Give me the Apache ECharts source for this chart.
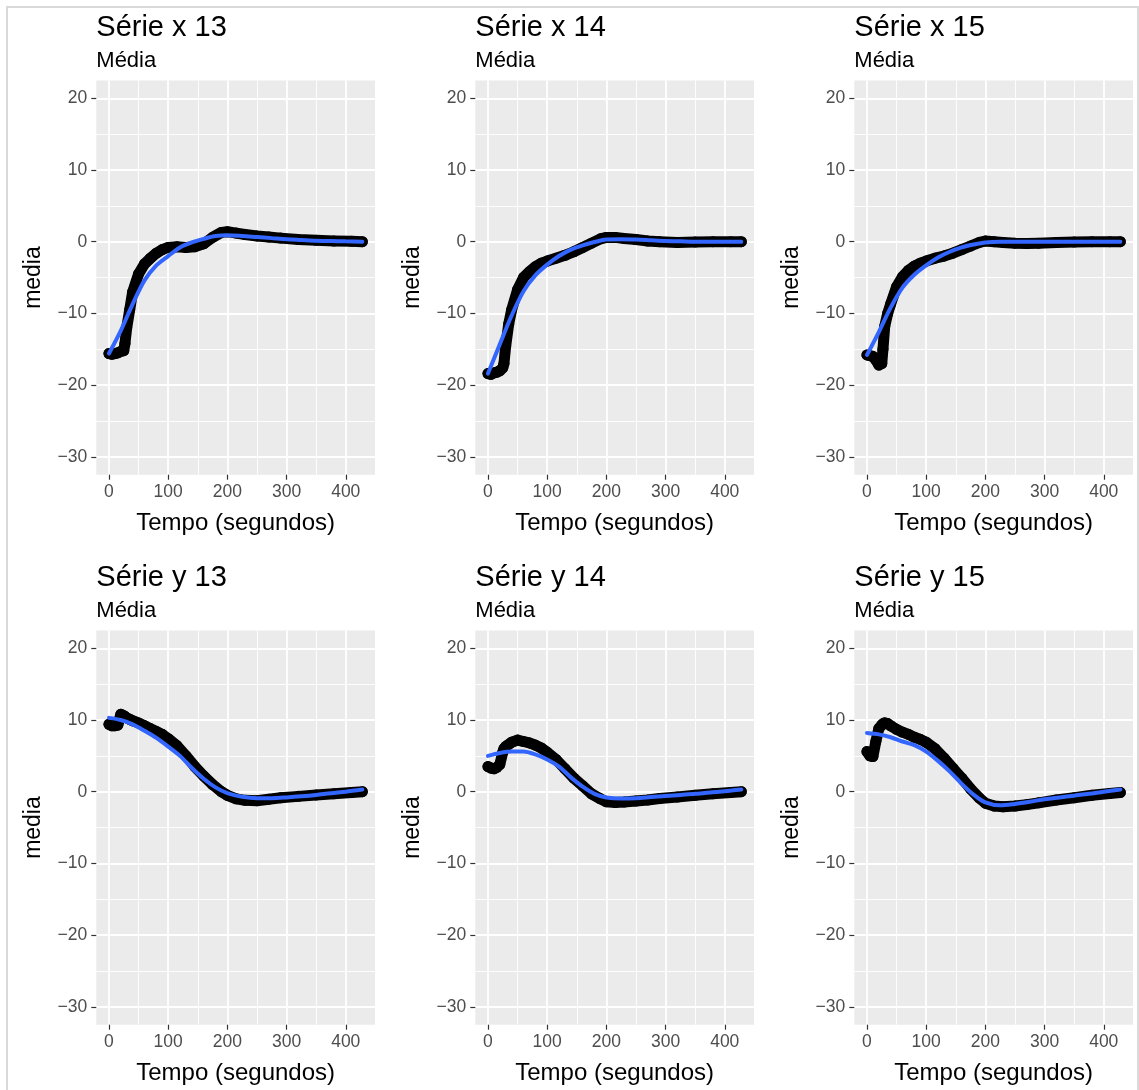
<!DOCTYPE html>
<html><head><meta charset="utf-8">
<script src="https://cdn.jsdelivr.net/npm/echarts@6/dist/echarts.min.js"></script>
<style>html,body{margin:0;padding:0;background:#fff}#c{width:1139px;height:1090px}</style>
</head><body><div id="c"></div>
<script>
// ---------- data ----------
const panelTitles = ['Série x 13', 'Série x 14', 'Série x 15', 'Série y 13', 'Série y 14', 'Série y 15'];
const subtitleText = 'Média';
const xTitle = 'Tempo (segundos)';
const yTitle = 'media';
const xTicks = [0, 100, 200, 300, 400];
const yTicks = [-30, -20, -10, 0, 10, 20];
const xMinor = [50, 150, 250, 350];
const yMinor = [-25, -15, -5, 5, 15];

// time (s) of the observed means
const tPoints = [0, 5, 10, 15, 20, 25, 27, 30, 35, 40, 50, 60, 70, 80, 90, 100, 115, 130, 145, 160, 175, 190, 200, 215, 230, 250, 270, 290, 320, 350, 380, 410, 428];
// time (s) of the smooth fit
const tFit = [0, 20, 40, 60, 80, 100, 120, 140, 160, 180, 200, 225, 250, 275, 300, 325, 350, 375, 400, 428];

const x13Points = [-15.6, -15.7, -15.6, -15.5, -15.3, -15.2, -14.2, -12.0, -9.5, -7.0, -4.5, -3.1, -2.3, -1.6, -1.1, -0.8, -0.7, -0.8, -0.7, -0.3, 0.6, 1.3, 1.4, 1.2, 1.0, 0.8, 0.65, 0.5, 0.3, 0.2, 0.1, 0.05, 0.0];
const x13Fit = [-15.6, -12.4, -8.7, -5.4, -3.3, -2.0, -0.8, -0.1, 0.4, 0.8, 0.9, 0.8, 0.65, 0.5, 0.35, 0.25, 0.15, 0.1, 0.05, 0.0];

const x14Points = [-18.4, -18.5, -18.3, -18.2, -18.0, -17.6, -17.0, -14.5, -11.5, -9.5, -6.7, -5.0, -4.2, -3.5, -3.0, -2.7, -2.3, -1.9, -1.4, -0.8, -0.2, 0.4, 0.6, 0.6, 0.45, 0.3, 0.1, 0.0, -0.1, -0.05, 0.0, 0.0, 0.0];
const x14Fit = [-18.4, -14.3, -10.3, -6.9, -4.7, -3.2, -2.0, -1.1, -0.5, -0.05, 0.3, 0.35, 0.3, 0.2, 0.1, 0.05, 0.0, 0.0, 0.0, 0.0];

const x15Points = [-15.8, -15.9, -16.0, -16.5, -17.2, -17.0, -15.0, -11.8, -10.0, -8.7, -6.3, -4.9, -4.0, -3.4, -3.0, -2.7, -2.3, -2.0, -1.6, -1.1, -0.6, -0.1, 0.1, 0.0, -0.1, -0.2, -0.25, -0.2, -0.1, -0.05, 0.0, 0.0, 0.0];
const x15Fit = [-15.8, -12.6, -9.2, -6.4, -4.6, -3.3, -2.2, -1.4, -0.8, -0.4, -0.1, 0.0, 0.0, 0.0, 0.0, 0.0, 0.0, 0.0, 0.0, 0.0];

const y13Points = [9.4, 9.2, 9.2, 9.3, 10.8, 10.6, 10.5, 10.3, 10.1, 9.9, 9.6, 9.2, 8.8, 8.4, 8.0, 7.4, 6.4, 5.0, 3.5, 2.2, 1.0, 0.0, -0.5, -1.0, -1.2, -1.25, -1.05, -0.85, -0.65, -0.45, -0.3, -0.1, 0.0];
const y13Fit = [10.3, 10.0, 9.4, 8.5, 7.5, 6.3, 5.0, 3.3, 1.8, 0.6, -0.2, -0.7, -0.9, -0.9, -0.8, -0.65, -0.45, -0.2, 0.0, 0.3];

const y14Points = [3.5, 3.3, 3.2, 3.4, 3.8, 5.5, 6.0, 6.3, 6.6, 6.9, 7.2, 7.0, 6.8, 6.5, 6.1, 5.5, 4.5, 3.2, 1.9, 0.8, -0.3, -1.0, -1.4, -1.5, -1.45, -1.3, -1.15, -0.95, -0.75, -0.5, -0.3, -0.1, 0.0];
const y14Fit = [5.0, 5.4, 5.6, 5.6, 5.2, 4.5, 3.5, 2.0, 0.7, -0.3, -0.8, -0.95, -0.9, -0.75, -0.6, -0.45, -0.3, -0.1, 0.05, 0.3];

const y15Points = [5.6, 5.0, 4.9, 7.0, 8.8, 9.3, 9.5, 9.6, 9.5, 9.2, 8.7, 8.3, 8.0, 7.6, 7.3, 6.9, 6.0, 4.7, 3.3, 1.9, 0.4, -0.9, -1.6, -2.0, -2.1, -2.0, -1.8, -1.55, -1.15, -0.85, -0.5, -0.25, -0.1];
const y15Fit = [8.2, 8.0, 7.6, 7.0, 6.5, 5.6, 4.3, 2.8, 1.1, -0.4, -1.5, -1.9, -1.7, -1.4, -1.05, -0.8, -0.55, -0.3, 0.0, 0.3];

const pointSets = [x13Points, x14Points, x15Points, y13Points, y14Points, y15Points];
const fitSets = [x13Fit, x14Fit, x15Fit, y13Fit, y14Fit, y15Fit];

// ---------- layout ----------
const FONT = '"Liberation Sans", Arial, Helvetica, sans-serif';
const colLeft = [96.3, 475.3, 854.3];
const rowTop = [80.4, 630.4];
const PW = 278.7, PH = 394.3;
const X_MIN = -21.4, X_MAX = 449.4, Y_MIN = -32.5, Y_MAX = 22.5;

const fmt = v => String(v).replace('-', '\u2212');

const grids = [], xAxes = [], yAxes = [], series = [], titles = [];
for (let i = 0; i < 6; i++) {
  const c = i % 3, r = Math.floor(i / 3);
  const L = colLeft[c], T = rowTop[r];
  grids.push({ left: L, top: T, width: PW, height: PH, show: true, backgroundColor: '#EBEBEB', borderWidth: 0, containLabel: false });
  titles.push({ text: panelTitles[i], left: L, top: T - 67, padding: 0,
    textStyle: { fontFamily: FONT, fontSize: 29, fontWeight: 'normal', color: '#000' } });
  titles.push({ text: subtitleText, left: L, top: T - 30, padding: 0,
    textStyle: { fontFamily: FONT, fontSize: 22, fontWeight: 'normal', color: '#000' } });
  xAxes.push({
    gridIndex: i, type: 'value', min: X_MIN, max: X_MAX, position: 'bottom',
    name: xTitle, nameLocation: 'middle', nameGap: 37,
    nameTextStyle: { fontFamily: FONT, fontSize: 24, color: '#000' },
    axisLine: { show: false, onZero: false },
    axisTick: { show: true, length: 5, customValues: xTicks, lineStyle: { color: '#333', width: 1.2 } },
    axisLabel: { customValues: xTicks, margin: 8, formatter: fmt, fontFamily: FONT, fontSize: 17.5, color: '#4D4D4D' },
    splitLine: { show: true, lineStyle: { color: '#FFFFFF', width: 1.8 } }
  });
  yAxes.push({
    gridIndex: i, type: 'value', min: Y_MIN, max: Y_MAX, position: 'left',
    name: yTitle, nameLocation: 'middle', nameGap: 51, nameRotate: 90,
    nameTextStyle: { fontFamily: FONT, fontSize: 23, color: '#000' },
    axisLine: { show: false, onZero: false },
    axisTick: { show: true, length: 5, customValues: yTicks, lineStyle: { color: '#333', width: 1.2 } },
    axisLabel: { customValues: yTicks, margin: 9, formatter: fmt, fontFamily: FONT, fontSize: 17.5, color: '#4D4D4D' },
    splitLine: { show: true, lineStyle: { color: '#FFFFFF', width: 1.8 } }
  });
  // minor grid lines
  series.push({
    type: 'line', xAxisIndex: i, yAxisIndex: i, data: [], silent: true, z: 1,
    markLine: {
      silent: true, symbol: 'none', animation: false, z: 1,
      label: { show: false },
      lineStyle: { color: '#FFFFFF', width: 0.9, type: 'solid' },
      data: xMinor.map(v => ({ xAxis: v })).concat(yMinor.map(v => ({ yAxis: v })))
    }
  });
  series.push({
    type: 'line', xAxisIndex: i, yAxisIndex: i, z: 5,
    data: tPoints.map((t, k) => [t, pointSets[i][k]]),
    symbol: 'circle', symbolSize: 11, showSymbol: true,
    itemStyle: { color: '#000' },
    lineStyle: { color: '#000', width: 11, cap: 'round', join: 'round' },
    animation: false, silent: true
  });
  series.push({
    type: 'line', xAxisIndex: i, yAxisIndex: i, z: 6,
    data: tFit.map((t, k) => [t, fitSets[i][k]]),
    smooth: 0.3, showSymbol: false,
    lineStyle: { color: '#3366FF', width: 4, cap: 'round' },
    animation: false, silent: true
  });
}

const chart = echarts.init(document.getElementById('c'), null, { renderer: 'canvas' });
chart.setOption({
  backgroundColor: '#FFFFFF',
  animation: false,
  title: titles,
  grid: grids,
  xAxis: xAxes,
  yAxis: yAxes,
  series: series,
  graphic: [{
    type: 'rect', silent: true, z: -1,
    shape: { x: 7, y: 7, width: 1131, height: 1100 },
    style: { fill: 'none', stroke: '#D9D9D9', lineWidth: 2 }
  }]
});
</script></body></html>
